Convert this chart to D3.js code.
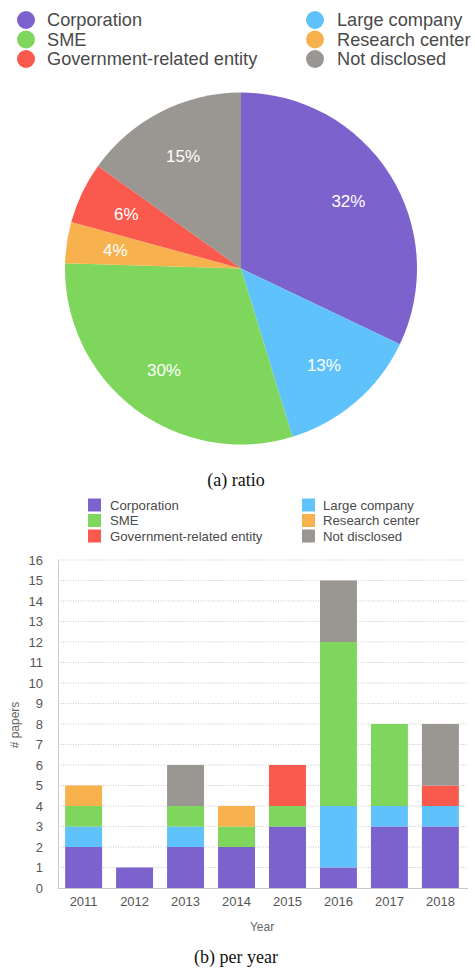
<!DOCTYPE html>
<html>
<head>
<meta charset="utf-8">
<script src="https://cdn.jsdelivr.net/npm/d3@7"></script>
<style>
  html, body { margin: 0; padding: 0; background: #fff; }
  svg { display: block; }
</style>
</head>
<body>
<svg id="chart" width="475" height="970"></svg>
<script>
// Affiliation categories (stack order, bottom to top)
const categories = ["Corporation", "Large company", "SME", "Research center", "Government-related entity", "Not disclosed"];
const colors = ["#7c62cd", "#60c2fa", "#7ed65d", "#f8b24d", "#fa5a4d", "#9a9692"];

// Number of papers per year for each category
const years = ["2011", "2012", "2013", "2014", "2015", "2016", "2017", "2018"];
const corporation  = [2, 1, 2, 2, 3, 1, 3, 3];
const largeCompany = [1, 0, 1, 0, 0, 3, 1, 1];
const sme          = [1, 0, 1, 1, 1, 8, 4, 0];
const research     = [1, 0, 0, 1, 0, 0, 0, 0];
const government   = [0, 0, 0, 0, 2, 0, 0, 1];
const notDisclosed = [0, 0, 2, 0, 0, 3, 0, 3];
const seriesValues = [corporation, largeCompany, sme, research, government, notDisclosed];

// Pie slice order (clockwise from 12 o'clock) and printed shares
const pieOrder = ["Corporation", "Large company", "SME", "Research center", "Government-related entity", "Not disclosed"];
const pieLabels = ["32%", "13%", "30%", "4%", "6%", "15%"];

const yTicks = d3.range(0, 17);

// Legend layout order: left column then right column
const legendLeft = ["Corporation", "SME", "Government-related entity"];
const legendRight = ["Large company", "Research center", "Not disclosed"];

const color = d3.scaleOrdinal().domain(categories).range(colors);
const sans = "'Liberation Sans', Arial, Helvetica, sans-serif";
const serif = "'Liberation Serif', 'Times New Roman', serif";

const svg = d3.select("#chart");

// ---------- (a) pie ----------
const topLegend = svg.append("g");
[[legendLeft, 26, 47], [legendRight, 315, 337]].forEach(([items, cx, tx]) => {
  items.forEach((name, i) => {
    const y = 20 + i * 19.5;
    topLegend.append("circle").attr("cx", cx).attr("cy", y).attr("r", 9).attr("fill", color(name));
    topLegend.append("text").attr("x", tx).attr("y", y).attr("dy", "0.35em")
      .attr("font-family", sans).attr("font-size", 18.2).attr("fill", "#4a4a4a")
      .text(name);
  });
});

const totals = pieOrder.map(name => d3.sum(seriesValues[categories.indexOf(name)]));
const pieData = pieOrder.map((name, i) => ({ name, value: totals[i], label: pieLabels[i] }));
const pie = d3.pie().value(d => d.value).sort(null);
const R = 176;
const arc = d3.arc().innerRadius(0).outerRadius(R);
const labelArc = d3.arc().innerRadius(127).outerRadius(127);

const pieG = svg.append("g").attr("transform", "translate(241,268.5)");
const arcs = pie(pieData);
pieG.selectAll("path.slice").data(arcs).join("path")
  .attr("class", "slice")
  .attr("d", arc)
  .attr("fill", d => color(d.data.name));
pieG.selectAll("text.pct").data(arcs).join("text")
  .attr("class", "pct")
  .attr("transform", d => `translate(${labelArc.centroid(d)})`)
  .attr("text-anchor", "middle").attr("dy", "0.36em")
  .attr("font-family", sans).attr("font-size", 17).attr("fill", "#fff")
  .text(d => d.data.label);

svg.append("text").attr("x", 236).attr("y", 480).attr("dy", "0.35em")
  .attr("text-anchor", "middle").attr("font-family", serif).attr("font-size", 18).attr("fill", "#111")
  .text("(a) ratio");

// ---------- (b) stacked bars ----------
const barLegend = svg.append("g");
[[legendLeft, 88, 110], [legendRight, 302, 323]].forEach(([items, sx, tx]) => {
  items.forEach((name, i) => {
    const y = 505 + i * 15.5;
    barLegend.append("rect").attr("x", sx).attr("y", y - 6.5).attr("width", 13).attr("height", 13).attr("fill", color(name));
    barLegend.append("text").attr("x", tx).attr("y", y).attr("dy", "0.35em")
      .attr("font-family", sans).attr("font-size", 13.2).attr("fill", "#4a4a4a")
      .text(name);
  });
});

const x = d3.scaleBand().domain(years).range([58, 466]).paddingInner(0.275).paddingOuter(0.14);
const y = d3.scaleLinear().domain([0, 16]).range([888, 560]);

// dotted gridlines
svg.append("g").selectAll("line").data(yTicks.filter(t => t > 0)).join("line")
  .attr("x1", 58).attr("x2", 468)
  .attr("y1", d => y(d)).attr("y2", d => y(d))
  .attr("stroke", "#c8c8c8").attr("stroke-width", 1).attr("stroke-dasharray", "1,1.5");

const table = years.map((yr, i) => {
  const row = { year: yr };
  categories.forEach((c, k) => { row[c] = seriesValues[k][i]; });
  return row;
});
const stacked = d3.stack().keys(categories)(table);

svg.append("g").selectAll("g").data(stacked).join("g")
  .attr("fill", d => color(d.key))
  .selectAll("rect").data(d => d.filter(s => s[1] > s[0])).join("rect")
  .attr("x", d => x(d.data.year))
  .attr("width", x.bandwidth())
  .attr("y", d => y(d[1]))
  .attr("height", d => y(d[0]) - y(d[1]));

// axes
const yAxis = svg.append("g").attr("transform", "translate(58,0)")
  .call(d3.axisLeft(y).tickValues(yTicks).tickSize(0).tickPadding(15).tickFormat(d3.format("d")));
yAxis.select(".domain").attr("stroke", "#c8c8c8");
yAxis.selectAll("text").attr("font-family", sans).attr("font-size", 13).attr("fill", "#555");

const xAxis = svg.append("g").attr("transform", "translate(0,888)")
  .call(d3.axisBottom(x).tickSize(0).tickPadding(9));
xAxis.select(".domain").attr("stroke", "#c8c8c8").attr("d", "M58,0.5H468");
xAxis.selectAll("text").attr("font-family", sans).attr("font-size", 13).attr("fill", "#555");

svg.append("text").attr("x", 262).attr("y", 927).attr("dy", "0.35em")
  .attr("text-anchor", "middle").attr("font-family", sans).attr("font-size", 12).attr("fill", "#666")
  .text("Year");
svg.append("text").attr("transform", "translate(15,725) rotate(-90)").attr("dy", "0.35em")
  .attr("text-anchor", "middle").attr("font-family", sans).attr("font-size", 12).attr("fill", "#666")
  .text("# papers");

svg.append("text").attr("x", 236).attr("y", 957).attr("dy", "0.35em")
  .attr("text-anchor", "middle").attr("font-family", serif).attr("font-size", 18).attr("fill", "#111")
  .text("(b) per year");
</script>
</body>
</html>
